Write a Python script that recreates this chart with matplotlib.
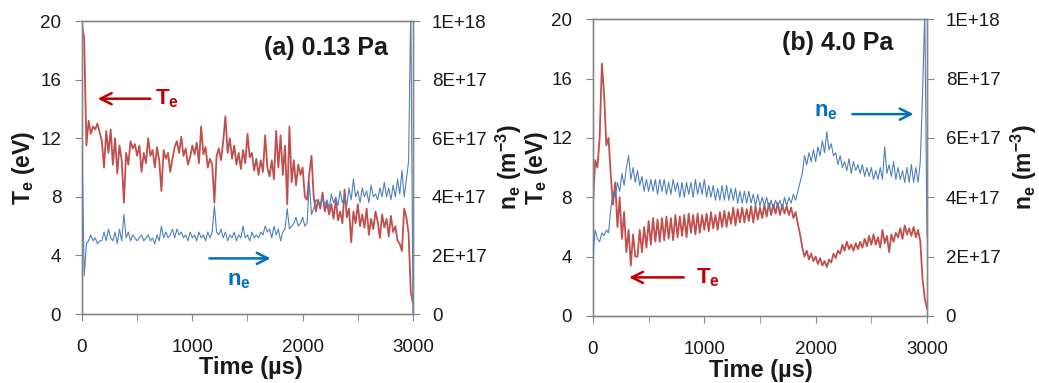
import numpy as np
import matplotlib
matplotlib.use('Agg')
import matplotlib.pyplot as plt

plt.rcParams['font.family'] = ['Liberation Sans', 'DejaVu Sans']
plt.rcParams['mathtext.fontset'] = 'custom'
plt.rcParams['mathtext.rm'] = 'Liberation Sans'
plt.rcParams['mathtext.bf'] = 'Liberation Sans:bold'
plt.rcParams['mathtext.it'] = 'Liberation Sans:italic'

# ---------------- data ----------------
time_a = np.arange(0, 3001, 20)
te_a = [
    19.8, 18.8, 11.5, 13.2, 12.3, 12.8, 12.6, 13.0, 12.4, 11.8,
    10.0, 12.5, 11.0, 12.6, 10.2, 12.0, 9.6, 11.5, 10.5, 7.6,
    11.0, 10.2, 11.8, 11.3, 11.6, 10.8, 11.5, 9.7, 11.0, 10.3,
    12.0, 10.8, 11.2, 10.0, 11.4, 10.5, 8.4, 11.2, 10.6, 11.0,
    9.7, 10.6, 11.4, 11.8, 11.0, 12.1, 10.8, 11.3, 10.2, 10.7,
    11.5, 10.9, 11.7, 10.3, 12.8, 10.9, 11.4, 10.0, 10.6, 10.2,
    7.6, 10.8, 11.3, 10.5, 11.8, 13.5, 11.0, 12.0, 10.6, 11.5,
    10.2, 11.0, 9.9, 11.2, 10.3, 12.3, 10.7, 11.0, 9.8, 10.6,
    9.5, 10.5, 9.7, 12.2, 10.0, 9.4, 10.5, 9.2, 12.5, 10.0,
    12.2, 9.5, 11.5, 7.5, 12.8, 9.0, 10.5, 8.8, 10.2, 9.5,
    10.0, 8.0, 7.8, 9.6, 10.8, 8.0, 7.0, 7.8, 7.2, 8.3,
    7.0, 7.6, 6.8, 7.5, 6.5, 7.8, 6.4, 7.0, 6.2, 8.5,
    6.6, 7.2, 4.9, 7.0, 6.2, 7.5, 6.0, 6.8, 5.9, 7.2,
    5.4, 6.5, 5.8, 7.0, 6.3, 5.2, 6.8, 5.9, 6.5, 5.3,
    6.7, 5.6, 6.0, 5.0, 4.8, 4.3, 7.2, 6.6, 5.5, 1.5,
    0.7,
]
ne_a = np.array([
    5.9, 1.3, 2.4, 2.5, 2.7, 2.5, 2.6, 2.4, 2.5, 2.5,
    2.8, 2.5, 2.9, 2.6, 2.5, 2.8, 2.4, 2.9, 2.5, 3.4,
    2.6, 2.8, 2.5, 2.7, 2.6, 2.5, 2.6, 2.7, 2.5, 2.6,
    2.7, 2.5, 2.6, 2.4, 2.7, 2.5, 3.0, 2.6, 2.8, 2.6,
    2.7, 2.9, 2.6, 2.9, 2.7, 2.8, 2.6, 2.7, 2.5, 2.8,
    2.6, 2.7, 2.5, 2.8, 2.6, 2.7, 2.5, 2.8, 2.6, 2.8,
    3.7, 2.8, 2.7, 2.9, 2.6, 2.8, 2.5, 2.7, 2.6, 2.8,
    2.5, 2.7, 2.6, 3.0, 2.6, 2.7, 2.5, 2.8, 2.6, 2.7,
    2.6, 2.8, 2.7, 3.0, 2.8, 2.9, 2.6, 3.0, 2.7, 2.9,
    2.5, 2.8, 2.9, 3.6, 2.9, 3.0, 3.1, 3.3, 3.0, 3.1,
    3.3, 3.0, 3.1, 4.5, 3.4, 3.6, 3.9, 3.8, 3.7, 4.0,
    3.7, 3.9, 3.6, 4.1, 3.8, 4.0, 3.7, 4.2, 3.8, 4.0,
    3.7, 4.3, 3.9, 4.6, 4.0, 4.2, 3.8, 4.3, 4.0, 4.2,
    3.8, 4.4, 4.0, 4.1, 3.9, 4.3, 4.0, 4.5, 4.0, 4.3,
    3.9, 4.4, 4.0, 4.6, 4.1, 4.9, 4.0, 4.6, 5.2, 10.5,
    0.0,
]) * 1e17

time_b = np.arange(0, 3001, 20)
te_b = [
    7.5, 10.5, 10.0, 12.0, 17.0, 15.0, 11.5, 12.0, 9.5, 7.5,
    9.0, 6.0, 8.0, 5.2, 7.0, 4.3, 5.8, 3.4, 5.5, 4.0,
    4.0, 5.8, 4.3, 6.0, 4.6, 6.4, 4.8, 6.6, 5.0, 6.5,
    5.0, 6.6, 5.1, 6.7, 5.2, 6.6, 5.1, 6.8, 5.3, 6.7,
    5.4, 6.8, 5.3, 6.9, 5.6, 6.8, 5.5, 6.9, 5.6, 6.8,
    5.8, 6.9, 5.7, 7.0, 5.9, 6.8, 5.8, 7.0, 6.0, 7.1,
    6.0, 7.0, 6.2, 7.3, 6.1, 7.2, 6.3, 7.3, 6.3, 7.2,
    6.4, 7.4, 6.3, 7.4, 6.5, 7.3, 6.6, 7.5, 6.7, 7.6,
    6.8, 7.5, 6.9, 7.6, 6.8, 7.5, 6.9, 7.4, 6.8, 7.3,
    6.6, 7.0, 6.2, 5.5, 4.6, 4.0, 4.4, 3.8, 4.2, 3.7,
    4.0, 3.5, 3.9, 3.4, 3.7, 3.3, 3.8, 3.6, 4.2, 3.9,
    4.4, 4.2, 4.8, 4.4, 5.0, 4.5, 4.8, 4.4, 4.9, 4.5,
    5.0, 4.6, 5.2, 4.7, 5.4, 4.8, 5.5, 4.8, 5.3, 4.6,
    5.8, 4.9, 5.4, 4.3, 5.5, 5.0, 5.6, 5.3, 5.9, 5.2,
    6.1, 5.5, 5.9, 5.4, 6.0, 5.3, 5.8, 5.0, 2.5, 1.2,
    0.5,
]
ne_b = np.array([
    2.0, 2.9, 2.6, 2.5, 2.8, 2.7, 2.9, 2.8, 3.6, 4.2,
    4.0, 4.5, 4.2, 4.8, 4.4, 5.0, 5.4, 4.6, 5.0, 4.5,
    4.9, 4.4, 4.7, 4.2, 4.6, 4.2, 4.6, 4.2, 4.6, 4.1,
    4.6, 4.2, 4.6, 4.1, 4.5, 4.1, 4.6, 4.2, 4.5, 4.0,
    4.5, 4.0, 4.5, 4.1, 4.5, 4.0, 4.6, 4.1, 4.5, 4.1,
    4.6, 4.0, 4.4, 4.0, 4.4, 3.9, 4.3, 3.9, 4.4, 3.9,
    4.4, 3.9, 4.3, 3.9, 4.3, 3.8, 4.2, 3.8, 4.2, 3.8,
    4.2, 3.8, 4.1, 3.7, 4.1, 3.7, 4.0, 3.7, 4.0, 3.6,
    3.9, 3.6, 3.9, 3.7, 3.9, 3.6, 4.0, 3.7, 4.0, 3.8,
    4.1, 3.9, 4.2, 4.5, 4.8, 5.4, 5.1, 5.5, 5.2, 5.6,
    5.2, 5.7, 5.4, 5.9, 5.5, 6.2, 5.6, 5.8, 5.4, 5.5,
    5.1, 5.4, 5.0, 5.2, 4.9, 5.3, 4.8, 5.2, 4.9, 5.1,
    4.8, 5.1, 4.7, 5.0, 4.7, 5.0, 4.6, 4.9, 4.6, 5.0,
    4.6, 5.7, 4.8, 5.1, 4.7, 5.2, 4.6, 5.0, 4.6, 4.9,
    4.5, 5.0, 4.5, 5.1, 4.5, 5.0, 4.5, 5.2, 7.5, 10.2,
    2.7,
]) * 1e17

te_ticks = [0, 4, 8, 12, 16, 20]
ne_ticks = [0, 2e17, 4e17, 6e17, 8e17, 1e18]
ne_ticklabels = ['0', '2E+17', '4E+17', '6E+17', '8E+17', '1E+18']
x_major = [0, 1000, 2000, 3000]
x_minor = [500, 1500, 2500]
titles = ['(a) 0.13 Pa', '(b) 4.0 Pa']

RED = '#C0504D'
BLUE = '#4F81BD'
RED_TXT = '#C00000'
BLUE_TXT = '#0070C0'
GRAY = '#878787'
TXT = '#1a1a1a'

fig = plt.figure(figsize=(10.39, 3.83), dpi=100)

axes_pos = [[0.0789, 0.180, 0.3186, 0.765], [0.5707, 0.175, 0.3215, 0.775]]
panels = [(time_a, te_a, ne_a), (time_b, te_b, ne_b)]
ylab_left = [-0.178, -0.168]
ylab_right = [1.29, 1.29]
xlab_pos = [(0.51, -0.184), (0.503, -0.185)]
title_pos = [(0.924, 0.908), (0.898, 0.919)]

for i, (t, te, ne) in enumerate(panels):
    ax = fig.add_axes(axes_pos[i])
    ax2 = ax.twinx()
    ax.plot(t, te, color=RED, lw=1.3, zorder=2)
    ax2.plot(t, ne, color=BLUE, lw=0.8, zorder=3)
    ax.set_xlim(0, 3000)
    ax.set_ylim(0, 20)
    ax2.set_ylim(0, 1e18)
    ax.set_xticks(x_major)
    ax.set_xticks(x_minor, minor=True)
    ax.set_yticks(te_ticks)
    ax2.set_yticks(ne_ticks)
    ax2.set_yticklabels(ne_ticklabels)
    for a in (ax, ax2):
        for s in a.spines.values():
            s.set_color(GRAY)
            s.set_linewidth(1.0)
    ax.tick_params(axis='x', which='both', direction='out', length=5, color=GRAY,
                   labelsize=13.5, labelcolor=TXT, pad=13)
    ax.tick_params(axis='y', direction='out', length=5, color=GRAY,
                   labelsize=13.5, labelcolor=TXT, pad=10)
    ax2.tick_params(axis='y', direction='out', length=5, color=GRAY,
                    labelsize=13.5, labelcolor=TXT, pad=8.5)
    ax.set_xlabel('Time (µs)', fontsize=17, fontweight='bold', color=TXT)
    ax.xaxis.label.set_va('center')
    ax.xaxis.set_label_coords(*xlab_pos[i])
    ax.set_ylabel(r'T$_\mathbf{e}$ (eV)', fontsize=16.5, fontweight='bold', color=TXT)
    ax.yaxis.label.set_va('center')
    ax.yaxis.set_label_coords(ylab_left[i], 0.5)
    ax2.set_ylabel(r'n$_\mathbf{e}$ (m$^\mathbf{-3}$)', fontsize=16.5, fontweight='bold',
                   color=TXT, rotation=90)
    ax2.yaxis.label.set_va('center')
    ax2.yaxis.set_label_coords(ylab_right[i], 0.5)
    ax.text(title_pos[i][0], title_pos[i][1], titles[i], transform=ax.transAxes,
            ha='right', va='center', fontsize=18, fontweight='bold', color=TXT)

    if i == 0:
        ax.annotate('', xy=(118, 14.7), xytext=(645, 14.7),
                    arrowprops=dict(arrowstyle='->', color=RED_TXT, lw=1.8,
                                    mutation_scale=20))
        ax.text(660, 14.7, r'T$_\mathbf{e}$', color=RED_TXT, fontsize=16,
                fontweight='bold', ha='left', va='center')
        ax.annotate('', xy=(1735, 3.8), xytext=(1130, 3.8),
                    arrowprops=dict(arrowstyle='->', color=BLUE_TXT, lw=1.8,
                                    mutation_scale=20))
        ax.text(1420, 2.3, r'n$_\mathbf{e}$', color=BLUE_TXT, fontsize=16,
                fontweight='bold', ha='center', va='center')
    else:
        ax.annotate('', xy=(300, 2.6), xytext=(840, 2.6),
                    arrowprops=dict(arrowstyle='->', color=RED_TXT, lw=1.8,
                                    mutation_scale=20))
        ax.text(925, 2.6, r'T$_\mathbf{e}$', color=RED_TXT, fontsize=16,
                fontweight='bold', ha='left', va='center')
        ax.annotate('', xy=(2905, 13.6), xytext=(2305, 13.6),
                    arrowprops=dict(arrowstyle='->', color=BLUE_TXT, lw=1.8,
                                    mutation_scale=20))
        ax.text(2093, 13.8, r'n$_\mathbf{e}$', color=BLUE_TXT, fontsize=16,
                fontweight='bold', ha='center', va='center')

fig.savefig('out.png', dpi=100)
